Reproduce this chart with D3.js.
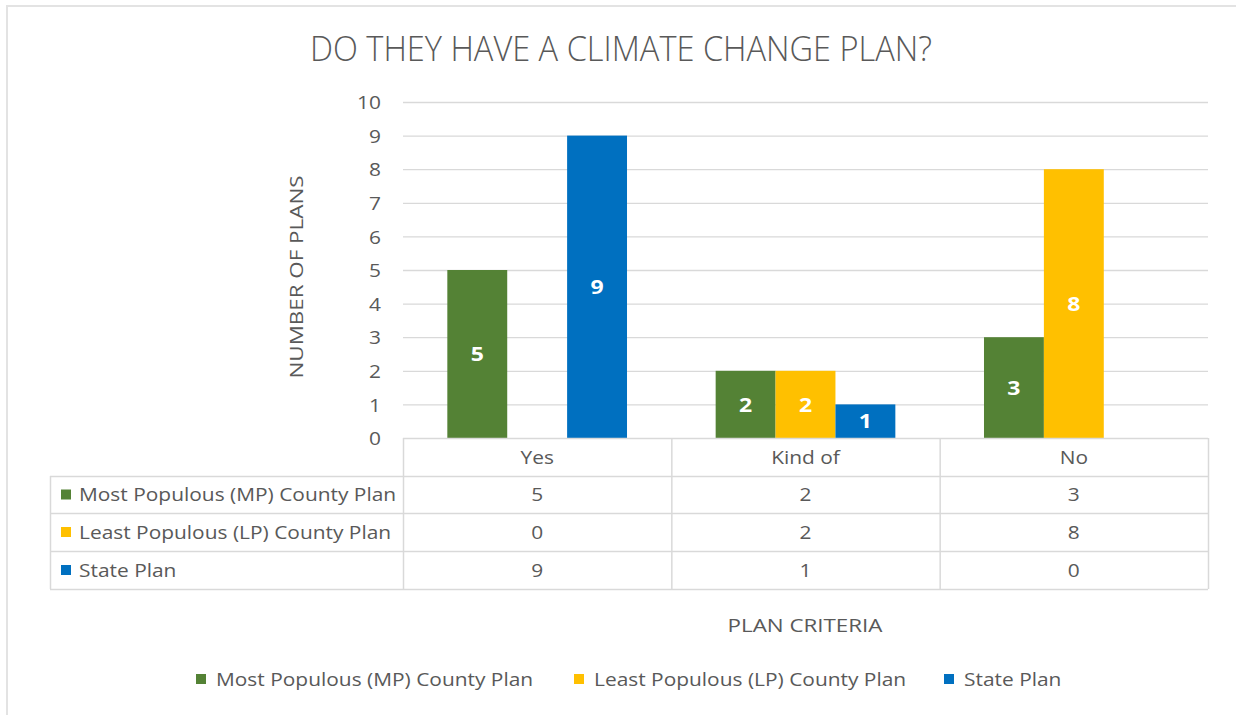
<!DOCTYPE html>
<html><head><meta charset="utf-8">
<script src="https://cdn.jsdelivr.net/npm/d3@7/dist/d3.min.js"></script>
<style>
html,body{margin:0;padding:0;background:#fff;}
svg{display:block;}
text{font-family:"Open Sans",sans-serif;fill:#595959;}
</style></head>
<body>
<svg id="chart" width="1236" height="715"></svg>
<script>
const categories = ["Yes", "Kind of", "No"];
const seriesNames = ["Most Populous (MP) County Plan", "Least Populous (LP) County Plan", "State Plan"];
const mpValues = [5, 2, 3];
const lpValues = [0, 2, 8];
const stateValues = [9, 1, 0];
const seriesColors = ["#548235", "#FFC000", "#0070C0"];
const yTicks = [0,1,2,3,4,5,6,7,8,9,10];
const chartTitle = "DO THEY HAVE A CLIMATE CHANGE PLAN?";
const yTitle = "NUMBER OF PLANS";
const xTitle = "PLAN CRITERIA";

const series = [mpValues, lpValues, stateValues].map((v,i)=>({name:seriesNames[i], color:seriesColors[i], values:v}));

const svg = d3.select("#chart");
const grid = "#d9d9d9";
const K = 1.1; // horizontal stretch to mimic reference text widths
function stretch(sel, k){ sel.each(function(){ const w=this.getComputedTextLength(); d3.select(this).attr("textLength", w*k).attr("lengthAdjust","spacingAndGlyphs"); }); }
function fitTo(sel, w){ sel.attr("textLength", w).attr("lengthAdjust","spacingAndGlyphs"); }

// outer frame (partial, as in screenshot)
svg.append("rect").attr("x",6).attr("y",5).attr("width",1230).attr("height",2).attr("fill","#e3e3e3");
svg.append("rect").attr("x",6).attr("y",5).attr("width",2).attr("height",710).attr("fill","#e3e3e3");

const plotL = 403, plotR = 1208, plotT = 102, plotB = 438;
const x0 = d3.scaleBand().domain(categories).range([plotL, plotR]).padding(0);
const x1 = d3.scaleBand().domain(seriesNames).range([0, x0.bandwidth()]).paddingInner(0).paddingOuter(0.74);
const y = d3.scaleLinear().domain([0,10]).range([plotB, plotT]);

// title
svg.append("text").attr("x",621).attr("y",61).attr("text-anchor","middle")
  .style("font-size","34px").style("font-weight",300).text(chartTitle).call(fitTo, 622);

// gridlines
svg.append("g").selectAll("line").data(yTicks.filter(d=>d>0)).join("line")
  .attr("x1",plotL).attr("x2",plotR).attr("y1",d=>y(d)+0.5).attr("y2",d=>y(d)+0.5)
  .attr("stroke",grid).attr("stroke-width",1.3);

// y axis via d3.axisLeft
const yAxis = svg.append("g").attr("transform",`translate(${plotL-22},0)`)
  .call(d3.axisLeft(y).tickValues(yTicks).tickSize(0).tickPadding(0));
yAxis.select(".domain").remove();
yAxis.selectAll("text").style("font-size","19px").style("font-family","'Open Sans',sans-serif").attr("fill","#595959").attr("dy","0.35em").call(stretch, 1.1);

// y title
svg.append("text").attr("transform",`translate(303,277) rotate(-90)`).attr("text-anchor","middle")
  .style("font-size","19px").text(yTitle).call(fitTo, 203);

// bars
const cat = svg.append("g").selectAll("g").data(categories).join("g")
  .attr("transform",c=>`translate(${x0(c)},0)`);
cat.each(function(c,ci){
  const g = d3.select(this);
  const data = series.map(s=>({name:s.name,color:s.color,v:s.values[ci]}));
  g.selectAll("rect").data(data.filter(d=>d.v>0)).join("rect")
    .attr("x",d=>x1(d.name)).attr("width",x1.bandwidth())
    .attr("y",d=>y(d.v)).attr("height",d=>y(0)-y(d.v)).attr("fill",d=>d.color);
  g.selectAll("text").data(data.filter(d=>d.v>0)).join("text")
    .attr("x",d=>x1(d.name)+x1.bandwidth()/2).attr("y",d=>(y(d.v)+y(0))/2)
    .attr("dy","0.36em").attr("text-anchor","middle")
    .style("font-size","20px").style("font-weight",700).style("fill","#fff").text(d=>d.v).call(stretch, 1.15);
});

// data table
const rowH = [438, 476, 513, 551, 589];
const tableL = 50;
const tg = svg.append("g");
tg.append("line").attr("x1",plotL).attr("x2",plotR).attr("y1",plotB+0.5).attr("y2",plotB+0.5).attr("stroke",grid).attr("stroke-width",1.5);
[rowH[1],rowH[2],rowH[3],rowH[4]].forEach(yy=>{
  tg.append("line").attr("x1",tableL).attr("x2",plotR).attr("y1",yy+0.5).attr("y2",yy+0.5).attr("stroke",grid).attr("stroke-width",1.5);
});
tg.append("line").attr("x1",tableL+0.5).attr("x2",tableL+0.5).attr("y1",rowH[1]).attr("y2",rowH[4]).attr("stroke",grid).attr("stroke-width",1.5);
categories.forEach(c=>{
  tg.append("line").attr("x1",x0(c)+0.5).attr("x2",x0(c)+0.5).attr("y1",rowH[0]).attr("y2",rowH[4]).attr("stroke",grid).attr("stroke-width",1.5);
});
tg.append("line").attr("x1",plotR+0.5).attr("x2",plotR+0.5).attr("y1",rowH[0]).attr("y2",rowH[4]).attr("stroke",grid).attr("stroke-width",1.5);
tg.selectAll("text.hdr").data(categories).join("text").attr("class","hdr")
  .attr("x",c=>x0(c)+x0.bandwidth()/2).attr("y",(rowH[0]+rowH[1])/2).attr("dy","0.36em")
  .attr("text-anchor","middle").style("font-size","19px").text(c=>c).call(stretch, K);
series.forEach((s,i)=>{
  const yc = (rowH[i+1]+rowH[i+2])/2;
  tg.append("rect").attr("x",61).attr("y",yc-5).attr("width",10).attr("height",10).attr("fill",s.color);
  tg.append("text").attr("x",79).attr("y",yc).attr("dy","0.36em").style("font-size","19px").text(s.name).call(stretch, K);
  tg.selectAll(null).data(categories).join("text")
    .attr("x",c=>x0(c)+x0.bandwidth()/2).attr("y",yc).attr("dy","0.36em")
    .attr("text-anchor","middle").style("font-size","19px").text((c,ci)=>s.values[ci]).call(stretch, K);
});

// x title
svg.append("text").attr("x",805).attr("y",626).attr("dy","0.36em").attr("text-anchor","middle")
  .style("font-size","18px").text(xTitle).call(fitTo, 155);

// legend
const legendX = [196, 574, 944];
const lg = svg.append("g");
series.forEach((s,i)=>{
  lg.append("rect").attr("x",legendX[i]).attr("y",674).attr("width",10).attr("height",10).attr("fill",s.color);
  lg.append("text").attr("x",legendX[i]+20).attr("y",679).attr("dy","0.36em").style("font-size","19px").text(s.name).call(stretch, K);
});
</script>
</body></html>
